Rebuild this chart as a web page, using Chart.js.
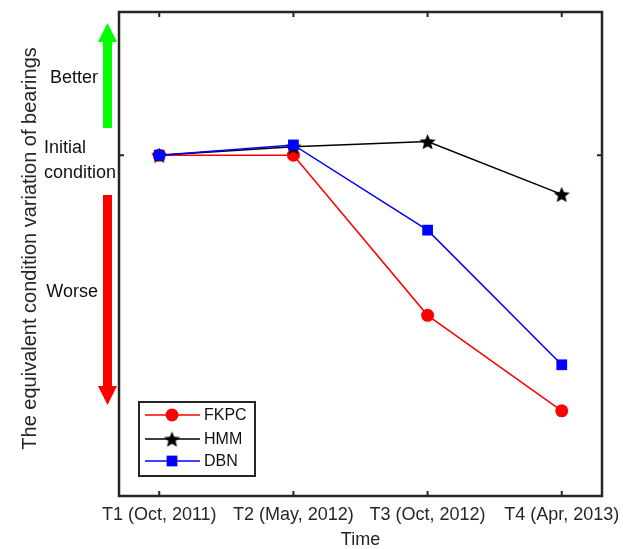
<!DOCTYPE html>
<html>
<head>
<meta charset="utf-8">
<script src="https://cdn.jsdelivr.net/npm/chart.js@4.4.1/dist/chart.umd.min.js"></script>
<style>
  html, body { margin: 0; padding: 0; background: #fff; }
</style>
</head>
<body>
<canvas id="chart" width="623" height="549"></canvas>
<script>
// time points and condition curves of the three methods
const timeSteps = [1, 2, 3, 4];
const timeLabels = ['T1 (Oct, 2011)', 'T2 (May, 2012)', 'T3 (Oct, 2012)', 'T4 (Apr, 2013)'];
const fkpcValues = [0, 0, -0.47, -0.75];
const hmmValues = [0, 0.025, 0.04, -0.115];
const dbnValues = [0, 0.03, -0.22, -0.615];
const initialLevel = 0;

const FONT = "'Liberation Sans', Arial, Helvetica, sans-serif";
const AXIS_COLOR = '#262626';

function starMarker(size, color) {
    const c = document.createElement('canvas');
    c.width = c.height = size;
    const g = c.getContext('2d');
    const cx = size / 2, cy = size / 2 + 0.9, R = size / 2, r = R * 0.45;
    g.beginPath();
    for (let i = 0; i < 10; i++) {
        const a = -Math.PI / 2 + i * Math.PI / 5;
        const rad = i % 2 ? r : R;
        g.lineTo(cx + rad * Math.cos(a), cy + rad * Math.sin(a));
    }
    g.closePath();
    g.fillStyle = color;
    g.fill();
    return c;
}

const star = starMarker(17, '#000');

function toPoints(values) {
    return values.map((v, i) => ({x: timeSteps[i], y: v}));
}

// box, inward ticks, side arrows and the legend
const decorations = {
    id: 'decorations',
    afterDatasetsDraw(chart) {
        const ctx = chart.ctx;
        const {left, right, top, bottom} = chart.chartArea;
        const xs = chart.scales.x, ys = chart.scales.y;
        ctx.save();

        ctx.strokeStyle = AXIS_COLOR;
        ctx.lineWidth = 2.5;
        ctx.strokeRect(left, top, right - left, bottom - top);

        ctx.lineWidth = 2;
        const tl = 5;
        timeSteps.forEach(t => {
            const px = xs.getPixelForValue(t);
            ctx.beginPath();
            ctx.moveTo(px, bottom); ctx.lineTo(px, bottom - tl);
            ctx.moveTo(px, top); ctx.lineTo(px, top + tl);
            ctx.stroke();
        });
        const py0 = ys.getPixelForValue(initialLevel);
        ctx.beginPath();
        ctx.moveTo(left, py0); ctx.lineTo(left + tl, py0);
        ctx.moveTo(right, py0); ctx.lineTo(right - tl, py0);
        ctx.stroke();

        // better / worse arrows
        function arrow(x, y0, y1, headLen, color) {
            const dir = y1 > y0 ? 1 : -1;
            ctx.fillStyle = color;
            ctx.fillRect(x - 4.5, Math.min(y0, y1 - dir * headLen), 9, Math.abs(y1 - dir * headLen - y0));
            ctx.beginPath();
            ctx.moveTo(x - 9.5, y1 - dir * headLen);
            ctx.lineTo(x + 9.5, y1 - dir * headLen);
            ctx.lineTo(x, y1);
            ctx.closePath();
            ctx.fill();
        }
        arrow(107.5, 128, 23, 19, '#00ff00');
        arrow(107.5, 195, 405, 19, '#ff0000');

        ctx.fillStyle = '#111';
        ctx.font = '18px ' + FONT;
        ctx.textBaseline = 'middle';
        ctx.textAlign = 'right';
        ctx.fillText('Better', 98, 78);
        ctx.fillText('Worse', 98, 292);
        ctx.textAlign = 'left';
        ctx.fillText('Initial', 44, 148);
        ctx.fillText('condition', 44, 173);

        // legend
        const lx = 139, ly = 402, lw = 116, lh = 74;
        ctx.fillStyle = '#fff';
        ctx.fillRect(lx, ly, lw, lh);
        ctx.strokeStyle = AXIS_COLOR;
        ctx.lineWidth = 2;
        ctx.strokeRect(lx, ly, lw, lh);
        const rows = [415, 439, 461];
        chart.data.datasets.forEach((ds, i) => {
            const y = rows[i];
            ctx.strokeStyle = ds.borderColor;
            ctx.lineWidth = ds.borderWidth;
            ctx.beginPath();
            ctx.moveTo(lx + 6, y); ctx.lineTo(lx + 61, y);
            ctx.stroke();
            ctx.fillStyle = ds.pointBackgroundColor;
            ctx.strokeStyle = ds.pointBorderColor;
            Chart.helpers.drawPoint(ctx, {
                pointStyle: ds.pointStyle, radius: ds.pointRadius, rotation: 0, borderWidth: 0
            }, lx + 33, y);
            ctx.fillStyle = '#111';
            ctx.font = '16px ' + FONT;
            ctx.textAlign = 'left';
            ctx.textBaseline = 'middle';
            ctx.fillText(ds.label, lx + 65, y + 1);
        });
        ctx.restore();
    }
};

new Chart(document.getElementById('chart'), {
    type: 'line',
    data: {
        datasets: [
            {
                label: 'FKPC', data: toPoints(fkpcValues),
                borderColor: '#ff0000', borderWidth: 1.5,
                pointStyle: 'circle', pointRadius: 6.5,
                pointBackgroundColor: '#ff0000', pointBorderColor: '#ff0000', pointBorderWidth: 0,
                order: 2
            },
            {
                label: 'HMM', data: toPoints(hmmValues),
                borderColor: '#000000', borderWidth: 1.5,
                pointStyle: star, pointRadius: 7,
                pointBackgroundColor: '#000000', pointBorderColor: '#000000', pointBorderWidth: 0,
                order: 1
            },
            {
                label: 'DBN', data: toPoints(dbnValues),
                borderColor: '#0000ff', borderWidth: 1.5,
                pointStyle: 'rect', pointRadius: 7.6,
                pointBackgroundColor: '#0000ff', pointBorderColor: '#0000ff', pointBorderWidth: 0,
                order: 0
            }
        ]
    },
    options: {
        responsive: false,
        devicePixelRatio: 1,
        animation: false,
        layout: {padding: {top: 12, right: 21, left: 0, bottom: 0}},
        plugins: {legend: {display: false}, tooltip: {enabled: false}},
        scales: {
            x: {
                type: 'linear', min: 0.7, max: 4.3,
                afterBuildTicks: s => { s.ticks = timeSteps.map(v => ({value: v})); },
                afterFit: s => { s.height = 53; s.paddingLeft = 0; s.paddingRight = 0; },
                grid: {display: false, drawTicks: false},
                border: {display: false},
                ticks: {
                    callback: v => timeLabels[timeSteps.indexOf(v)],
                    color: AXIS_COLOR, padding: 8, maxRotation: 0, autoSkip: false,
                    font: {family: FONT, size: 18}
                },
                title: {
                    display: true, text: 'Time', color: AXIS_COLOR,
                    font: {family: FONT, size: 18, lineHeight: 1}, padding: {top: 0, bottom: 0}
                }
            },
            y: {
                min: -1, max: 0.42,
                afterFit: s => { s.width = 119; s.paddingTop = 0; s.paddingBottom = 0; },
                grid: {display: false, drawTicks: false},
                border: {display: false},
                ticks: {display: false},
                title: {
                    display: true, text: '  The equivalent condition variation of bearings',
                    color: AXIS_COLOR, font: {family: FONT, size: 20, lineHeight: 1.2},
                    padding: {top: 18, bottom: 0}
                }
            }
        }
    },
    plugins: [decorations]
});
</script>
</body>
</html>
